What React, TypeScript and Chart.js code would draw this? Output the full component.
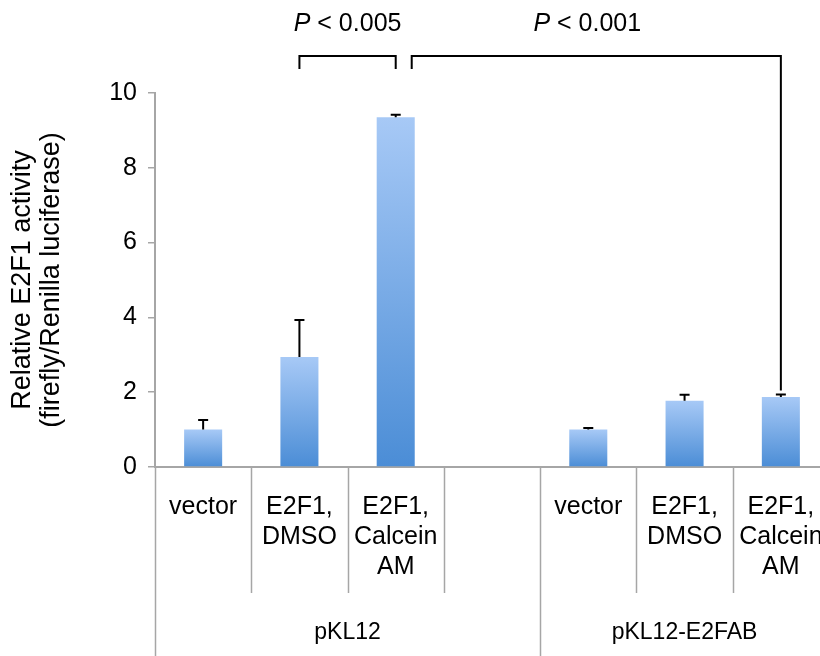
import React, { useEffect, useRef } from "react";
import { Chart, registerables } from "chart.js";

Chart.register(...registerables);

// ---- data ----
const categories: string[][] = [
  ["vector"],
  ["E2F1,", "DMSO"],
  ["E2F1,", "Calcein", "AM"],
  [""],
  ["vector"],
  ["E2F1,", "DMSO"],
  ["E2F1,", "Calcein", "AM"],
];
const values: (number | null)[] = [1.0, 2.94, 9.35, null, 1.0, 1.77, 1.87];
const errors: (number | null)[] = [0.26, 0.99, 0.07, null, 0.04, 0.16, 0.07];
const groupLabels = ["pKL12", "pKL12-E2FAB"];
const groupSpans = [4, 3];
const yTicks = [0, 2, 4, 6, 8, 10];
const yTitle = ["Relative E2F1 activity", "(firefly/Renilla luciferase)"];
const pValues = ["0.005", "0.001"];
const bracketPairs: [number, number][] = [
  [1, 2],
  [2, 6],
];

const FONT = "'Liberation Sans', Arial, Helvetica, sans-serif";
const GRAY = "#a6a6a6";

const overlayPlugin = {
  id: "overlay",
  afterDatasetsDraw(chart: any) {
    const { ctx, scales } = chart;
    const x = scales.x;
    const y = scales.y;
    const axisY = y.getPixelForValue(0);
    const cx = (i: number) => x.getPixelForValue(i);
    const half = (cx(1) - cx(0)) / 2;
    ctx.save();

    // error bars
    ctx.strokeStyle = "#000";
    ctx.lineWidth = 2;
    values.forEach((v, i) => {
      const e = errors[i];
      if (v == null || e == null) return;
      const px = cx(i);
      const y0 = y.getPixelForValue(v);
      const y1 = y.getPixelForValue(v + e);
      ctx.beginPath();
      ctx.moveTo(px, y0);
      ctx.lineTo(px, y1);
      ctx.moveTo(px - 5, y1);
      ctx.lineTo(px + 5, y1);
      ctx.stroke();
    });

    // category separators below axis
    ctx.strokeStyle = GRAY;
    ctx.lineWidth = 1.5;
    const groupBounds = new Set<number>();
    let acc = 0;
    groupSpans.forEach((s) => {
      groupBounds.add(acc);
      acc += s;
    });
    for (let i = 0; i < categories.length; i++) {
      const bx = cx(i) - half;
      const isGroup = groupBounds.has(i);
      ctx.beginPath();
      ctx.moveTo(Math.round(bx) + 0.5, axisY);
      ctx.lineTo(Math.round(bx) + 0.5, isGroup ? chart.height : axisY + 126);
      ctx.stroke();
    }

    // group labels
    ctx.fillStyle = "#000";
    ctx.font = `23px ${FONT}`;
    ctx.textAlign = "center";
    ctx.textBaseline = "middle";
    acc = 0;
    groupLabels.forEach((g, gi) => {
      const start = cx(acc) - half;
      const end = cx(acc + groupSpans[gi] - 1) + half;
      ctx.fillText(g, (start + end) / 2, 633);
      acc += groupSpans[gi];
    });

    // significance brackets
    ctx.strokeStyle = "#000";
    ctx.lineWidth = 2;
    const topY = 56;
    bracketPairs.forEach(([a, b], k) => {
      const left = k === 0 ? cx(a) : cx(a) + 16;
      const right = cx(b);
      let rightEnd = topY + 13;
      if (k === 1) {
        const v = values[b] as number;
        const e = errors[b] as number;
        rightEnd = y.getPixelForValue(v + e) - 4;
      }
      ctx.beginPath();
      ctx.moveTo(left, topY + 13);
      ctx.lineTo(left, topY);
      ctx.lineTo(right, topY);
      ctx.lineTo(right, rightEnd);
      ctx.stroke();

      // text
      const mid = k === 0 ? (left + right) / 2 : (left + right) / 2 - 9;
      const pFont = `italic 25px ${FONT}`;
      const rFont = `25px ${FONT}`;
      ctx.font = pFont;
      const wP = ctx.measureText("P").width;
      ctx.font = rFont;
      const rest = " < " + pValues[k];
      const wR = ctx.measureText(rest).width;
      const sx = mid - (wP + wR) / 2;
      ctx.textAlign = "left";
      ctx.textBaseline = "middle";
      ctx.fillStyle = "#000";
      ctx.font = pFont;
      ctx.fillText("P", sx, 24);
      ctx.font = rFont;
      ctx.fillText(rest, sx + wP, 24);
    });

    ctx.restore();
  },
};

export default function App() {
  const ref = useRef<HTMLCanvasElement | null>(null);

  useEffect(() => {
    document.body.style.margin = "0";
    const canvas = ref.current;
    if (!canvas) return;
    const chart = new Chart(canvas, {
      type: "bar",
      data: {
        labels: categories,
        datasets: [
          {
            data: values as any,
            backgroundColor: (c: any) => {
              const ch = c.chart;
              const v = values[c.dataIndex];
              if (!ch.chartArea || v == null || !ch.scales.y) return "#6fa8ea";
              const top = ch.scales.y.getPixelForValue(v);
              const bottom = ch.scales.y.getPixelForValue(0);
              if (!isFinite(top) || !isFinite(bottom) || top === bottom) return "#6fa8ea";
              const g = ch.ctx.createLinearGradient(0, top, 0, bottom);
              g.addColorStop(0, "#a7c9f6");
              g.addColorStop(1, "#4b8dd6");
              return g;
            },
            borderWidth: 0,
            categoryPercentage: 1,
            barPercentage: 0.395,
          },
        ],
      },
      options: {
        animation: false,
        responsive: false,
        maintainAspectRatio: false,
        layout: { padding: { top: 93, right: 11, left: 0, bottom: 0 } },
        plugins: {
          legend: { display: false },
          tooltip: { enabled: false },
        },
        scales: {
          x: {
            offset: true,
            grid: { display: true, drawOnChartArea: false, drawTicks: false },
            border: { display: true, color: GRAY, width: 2 },
            ticks: {
              autoSkip: false,
              maxRotation: 0,
              minRotation: 0,
              padding: 25,
              color: "#000",
              font: { family: FONT, size: 25, lineHeight: 1.2 },
            },
            afterFit: (s: any) => {
              s.height = 189;
              s.paddingLeft = 0;
              s.paddingRight = 0;
            },
          },
          y: {
            min: 0,
            max: 10,
            afterBuildTicks: (s: any) => {
              s.ticks = yTicks.map((v) => ({ value: v }));
            },
            grid: {
              drawOnChartArea: false,
              drawTicks: true,
              tickLength: 7,
              color: GRAY,
              lineWidth: 1.5,
            },
            border: { display: true, color: GRAY, width: 2 },
            ticks: {
              padding: 11,
              color: "#000",
              font: { family: FONT, size: 25 },
            },
            title: {
              display: true,
              text: yTitle,
              color: "#000",
              font: { family: FONT, size: 27, lineHeight: 1.07 },
              padding: { top: 8, bottom: 0 },
            },
            afterFit: (s: any) => {
              s.width = 155;
              s.paddingTop = 0;
              s.paddingBottom = 0;
            },
          },
        },
      },
      plugins: [overlayPlugin],
    });
    return () => chart.destroy();
  }, []);

  return (
    <div
      style={{
        position: "absolute",
        left: 0,
        top: 0,
        width: 820,
        height: 656,
        overflow: "hidden",
        background: "#fff",
      }}
    >
      <canvas ref={ref} width={840} height={656} style={{ display: "block" }} />
    </div>
  );
}
